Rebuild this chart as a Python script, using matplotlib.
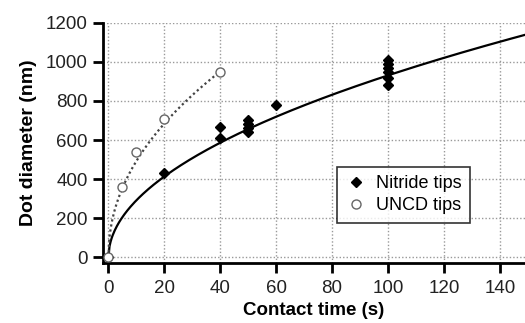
import numpy as np
import matplotlib.pyplot as plt

plt.rcParams['font.family'] = ['Liberation Sans', 'DejaVu Sans']

# Nitride tips
nitride_t = [0, 20, 40, 40, 50, 50, 50, 50, 60, 100, 100, 100, 100, 100, 100]
nitride_d = [0, 430, 665, 610, 700, 680, 660, 640, 780, 1010, 990, 970, 950, 920, 880]
# UNCD tips
uncd_t = [0, 5, 10, 20, 40]
uncd_d = [0, 360, 540, 710, 950]

# power-law fits d = a * t**n
nitride_fit = (91.0, 0.505)
uncd_fit = (165.0, 0.475)

fig = plt.figure(figsize=(5.25, 3.23), dpi=100)
ax = fig.add_axes([0.196, 0.186, 0.804, 0.743])

t1 = np.linspace(0, 150, 400)
ax.plot(t1, nitride_fit[0] * t1 ** nitride_fit[1], color='black', lw=1.6, zorder=3)
t2 = np.linspace(0, 40, 200)
ax.plot(t2, uncd_fit[0] * t2 ** uncd_fit[1], color='#444444', lw=1.6, ls=(0, (1, 1.3)), zorder=3)

ax.plot(nitride_t, nitride_d, 'D', color='black', ms=5, ls='none', label='Nitride tips', zorder=4)
ax.plot(uncd_t, uncd_d, 'o', mfc='white', mec='#666666', mew=1, ms=6.5, ls='none', label='UNCD tips', zorder=4)

ax.set_xlim(-2, 149)
ax.set_ylim(-30, 1200)
ax.set_xticks(range(0, 141, 20))
ax.set_yticks(range(0, 1201, 200))
ax.grid(True, color='#999999', ls=(0, (1, 1.5)), lw=1)
ax.set_axisbelow(True)

for s in ['top', 'right']:
    ax.spines[s].set_visible(False)
for s in ['left', 'bottom']:
    ax.spines[s].set_linewidth(2)
ax.tick_params(direction='out', length=7, width=2, labelsize=13.5, colors='black')
ax.tick_params(axis='x', pad=5.5)
ax.tick_params(axis='y', pad=4)
for lab in ax.get_xticklabels() + ax.get_yticklabels():
    lab.set_color('#222222')

ax.set_xlabel('Contact time (s)', fontsize=13.5, fontweight='bold', labelpad=3.5)
ax.set_ylabel('Dot diameter (nm)', fontsize=14, fontweight='bold', labelpad=6)

leg = ax.legend(loc='upper left', bbox_to_anchor=(0.555, 0.40), borderaxespad=0, frameon=True,
                fancybox=False, fontsize=13, handletextpad=0.5, borderpad=0.45, handlelength=1.2,
                labelspacing=0.3)
leg.get_frame().set_edgecolor('black')
leg.get_frame().set_linewidth(1.2)

fig.savefig('out.png', dpi=100)
